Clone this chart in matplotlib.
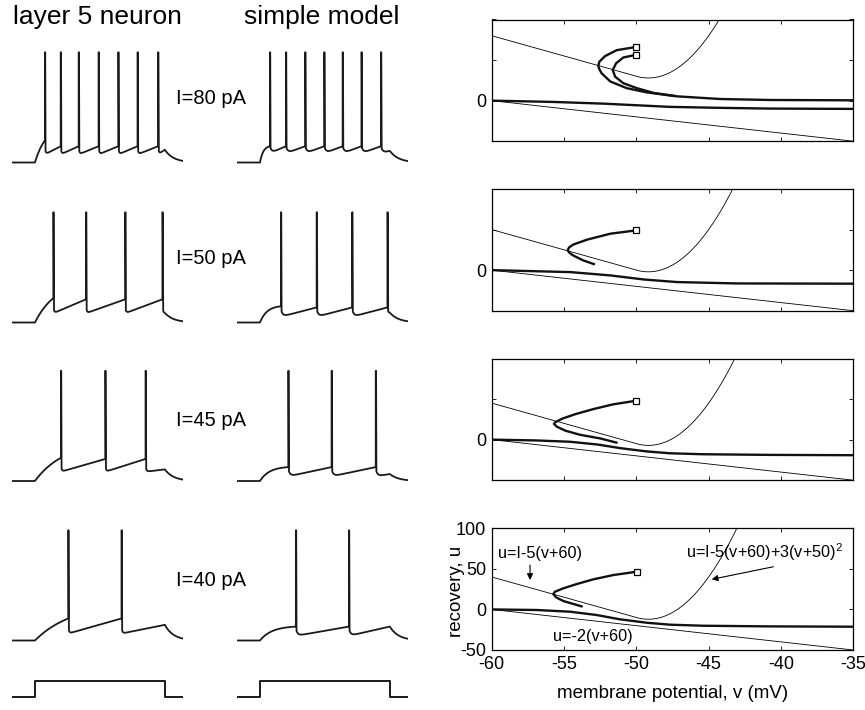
import numpy as np
import matplotlib
matplotlib.use('Agg')
import matplotlib.pyplot as plt

plt.rcParams['font.family'] = ['Liberation Sans', 'DejaVu Sans']
plt.rcParams['mathtext.fontset'] = 'custom'
plt.rcParams['mathtext.rm'] = 'Liberation Sans'
plt.rcParams['mathtext.it'] = 'Liberation Sans'
plt.rcParams['axes.unicode_minus'] = False

# injected current for each row (pA)
currents = [80, 50, 45, 40]

# spike times (ms)
layer5_spikes = [
    [152, 225, 308, 400, 491, 580, 675],
    [191, 342, 523, 695],
    [226, 431, 617],
    [260, 506],
]
model_spikes = [
    [152, 226, 315, 403, 488, 575, 665],
    [203, 368, 532, 695],
    [237, 437, 641],
    [272, 517],
]
# levels (mV): before 1st spike, trough after spike, before next spike, at end of step
layer5_levels = [(-41, -53, -46, -49), (-39, -52, -40, -52),
                 (-40, -52, -41, -50), (-41, -54, -41, -46.5)]
model_levels = [(-46, -52, -46, -50), (-46, -55, -47, -53),
                (-48, -56, -48, -54), (-48, -56, -48, -48)]

# current step (ms, on/off)
step_t = [0, 106, 106, 706, 706, 790]
step_i = [0, 0, 1, 1, 0, 0]

# phase plane trajectories (v in mV, u)
reset_v = [
    [[-50, -51.36, -52.16, -52.56, -52.63, -52.55, -52.4, -51.8, -50.67, -49.29, -47.2, -44.2, -40.75, -35],
     [-50, -50.9, -51.4, -51.63, -51.47, -50.9, -49.97, -48.8, -47.3]],
    [[-50, -51.8, -53.4, -54.36, -54.65, -54.75, -54.6, -54.36, -53.66, -52.86]],
    [[-50, -51.6, -53.0, -54.2, -55.1, -55.6, -55.7, -55.5, -54.9, -53.9, -52.5, -51.3]],
    [[-49.97, -51.59, -52.97, -54.12, -55.05, -55.62, -55.74, -55.55, -55.05, -54.35, -53.71]],
]
reset_u = [
    [[66.2, 62.2, 54.9, 47.9, 42.7, 38.5, 33.7, 23.6, 15.4, 10.2, 5.3, 2.0, 0.8, 0.4],
     [56.5, 53.2, 46, 37.8, 29.6, 21.5, 15.4, 9.5, 5.6]],
    [[49, 44.9, 37.6, 31.5, 28, 24.5, 21, 18, 11.9, 7.0]],
    [[48, 43.5, 37.5, 31.5, 26, 21.5, 19.5, 16, 11, 6, 1.5, -4]],
    [[46.5, 42.4, 37.1, 31.3, 26.0, 21.9, 19.0, 14.9, 10.4, 6.7, 3.4]],
]
rest_v = [
    [-60, -55.74, -52.28, -49.97, -47.67, -44.2, -40.75, -35],
    [-60, -54.58, -51.8, -49.5, -47.2, -43.05, -35],
    [-60, -56.9, -54.6, -52.7, -51.1, -49.3, -47.7, -45.4, -40.8, -35],
    [-60, -56.89, -54.58, -52.74, -51.13, -49.28, -47.67, -45.37, -40.75, -35],
]
rest_u = [
    [0, -1.6, -3.7, -5.7, -7.7, -8.9, -9.8, -10.2],
    [0, -2.4, -6.5, -11.5, -14.7, -16.4, -16.7],
    [0, -1, -2.6, -6, -10.5, -14.5, -16.8, -18, -18.8, -19.2],
    [0, -0.7, -2.8, -6.9, -12.2, -16.4, -18.8, -20.1, -20.9, -21.3],
]

W, H = 865, 710
fig = plt.figure(figsize=(W / 100, H / 100), dpi=100)


def px_axes(x0, y0, x1, y1):
    ax = fig.add_axes([x0 / W, 1 - y1 / H, (x1 - x0) / W, (y1 - y0) / H])
    return ax


def make_trace(spikes, levels, simple):
    pre, trough, thr, end = levels
    t_on, t_off, t_end = step_t[1], step_t[3], step_t[-1]
    peak = 35
    bend = 3.0 if simple else 0.9
    drop, tau = (6, 8) if simple else (5, 4)
    ts = [np.array([0, t_on])]
    vs = [np.array([-60.0, -60.0])]
    s = np.linspace(0, 1, 40)
    ts.append(t_on + s * (spikes[0] - t_on))
    vs.append(-60 + (pre + 60) * (1 - np.exp(-bend * s)) / (1 - np.exp(-bend)))
    nxt = spikes[1:] + [t_off]
    for k, t0 in enumerate(spikes):
        t1 = nxt[k]
        top = thr if k < len(spikes) - 1 else end
        ts.append(np.array([t0, t0 + 1.5]))
        vs.append(np.array([peak, peak]))
        tt = np.linspace(t0 + 3, t1, 80)
        x = (tt - t0) / (t1 - t0)
        vs.append(trough + (top - trough) * x + drop * np.exp(-(tt - t0) / tau))
        ts.append(tt)
    v_last = vs[-1][-1]
    tt = np.linspace(t_off, t_end, 40)
    ts.append(tt)
    vs.append(-60 + (v_last + 60) * np.exp(-(tt - t_off) / 40))
    return np.concatenate(ts), np.concatenate(vs)


mv_px = 1.16
bases = [162.5, 322.5, 481, 640.5]
cols = [(12, 183), (237, 408)]
for r in range(4):
    for c, (x0, x1) in enumerate(cols):
        ax = px_axes(x0, bases[r] - 100 * mv_px, x1, bases[r] + 5 * mv_px)
        if c == 0:
            t, v = make_trace(layer5_spikes[r], layer5_levels[r], False)
        else:
            t, v = make_trace(model_spikes[r], model_levels[r], True)
        ax.plot(t, v, color='#1a1a1a', lw=1.3, solid_joinstyle='round')
        ax.set_xlim(0, 790)
        ax.set_ylim(-65, 40)
        ax.axis('off')
    fig.text(176 / W, 1 - [98, 258, 420, 580][r] / H, f'I={currents[r]} pA',
             ha='left', va='center', fontsize=14.5)

for x0, x1 in cols:
    ax = px_axes(x0, 675, x1, 705)
    ax.plot(step_t, step_i, color='#1a1a1a', lw=1.4)
    ax.set_xlim(0, 790)
    ax.set_ylim(-0.5, 1.375)
    ax.axis('off')

fig.text(97 / W, 1 - 17 / H, 'layer 5 neuron', ha='center', va='center', fontsize=19)
fig.text(322 / W, 1 - 17 / H, 'simple model', ha='center', va='center', fontsize=19)

# phase planes
tops = [19.5, 189, 358.5, 528.3]
vgrid = np.linspace(-60, -35, 600)
for i in range(4):
    ax = px_axes(491.7, tops[i], 853.3, tops[i] + 121.7)
    I = currents[i]
    ax.plot(vgrid, I - 5 * (vgrid + 60) + 3 * np.clip(vgrid + 50, 0, None) ** 2,
            color='k', lw=0.6)
    ax.plot(vgrid, -2 * (vgrid + 60), color='k', lw=0.6)
    ax.plot(rest_v[i], rest_u[i], color='#111111', lw=1.7, solid_capstyle='butt')
    for rv, ru in zip(reset_v[i], reset_u[i]):
        ax.plot(rv, ru, color='#111111', lw=1.7, solid_capstyle='butt')
        ax.plot(rv[0], ru[0], 's', ms=4.5, mfc='white', mec='k', mew=0.9)
    ax.set_xlim(-60, -35)
    ax.set_ylim(-50, 100)
    ax.set_xticks([-60, -55, -50, -45, -40, -35])
    ax.set_yticks([-50, 0, 50, 100])
    ax.tick_params(direction='in', length=3, width=0.6, top=True, right=True,
                   labelsize=13, pad=4)
    for sp in ax.spines.values():
        sp.set_linewidth(0.9)
    if i < 3:
        ax.set_xticklabels([])
        ax.set_yticklabels(['', '0', '', ''])
    else:
        ax.set_xlabel('membrane potential, v (mV)', fontsize=13.5, labelpad=9)
        ax.set_ylabel('recovery, u', fontsize=13.5)
        ax.yaxis.set_label_coords(-0.073, 0.48)
        ax.text(-56.66, 69.5, 'u=I-5(v+60)', ha='center', va='center', fontsize=11.7)
        ax.annotate('', xy=(-57.35, 36.3), xytext=(-57.35, 54.7),
                    arrowprops=dict(arrowstyle='-|>', color='k', lw=0.8,
                                    mutation_scale=9, shrinkA=0, shrinkB=0))
        ax.text(-41.17, 71.1, 'u=I-5(v+60)+3(v+50)$^2$', ha='center', va='center',
                fontsize=11.7)
        ax.annotate('', xy=(-44.79, 37.1), xytext=(-40.53, 52.6),
                    arrowprops=dict(arrowstyle='-|>', color='k', lw=0.8,
                                    mutation_scale=9, shrinkA=0, shrinkB=0))
        ax.text(-53.0, -33.7, 'u=-2(v+60)', ha='center', va='center', fontsize=11.7)

fig.savefig('out.png', dpi=100)
